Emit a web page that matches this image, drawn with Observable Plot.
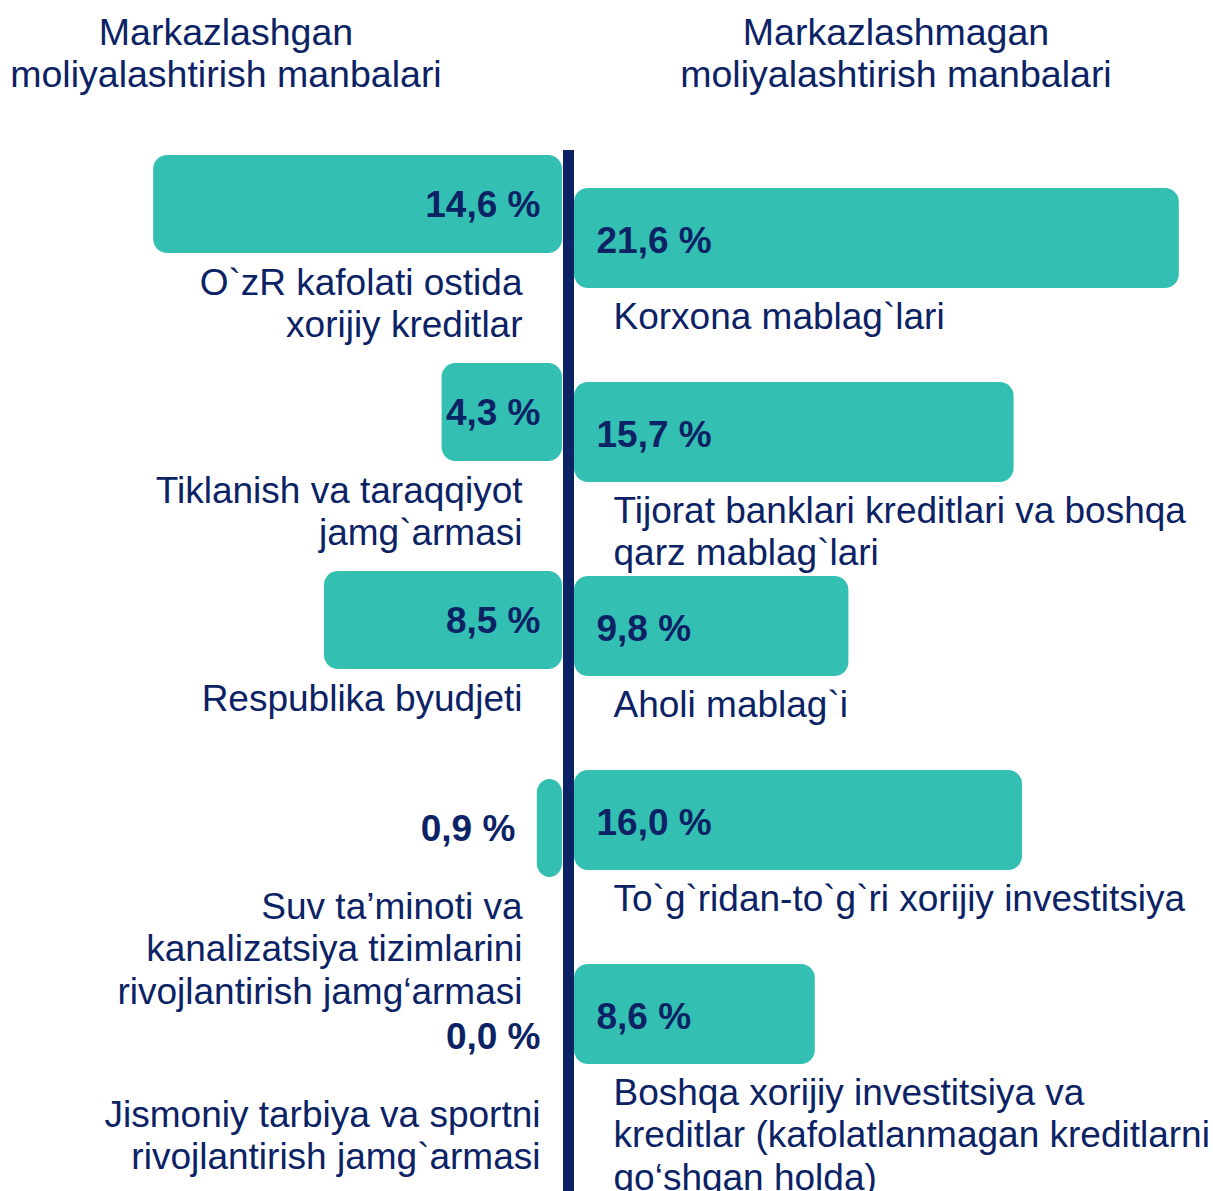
<!DOCTYPE html>
<html>
<head>
<meta charset="utf-8">
<script src="https://cdn.jsdelivr.net/npm/d3@7"></script>
<script src="https://cdn.jsdelivr.net/npm/@observablehq/plot@0.6"></script>
<style>
  body { margin: 0; background: #fff; }
  #root { position: relative; width: 1213px; height: 1191px; overflow: hidden; font-family: "Liberation Sans", Arial, sans-serif; color: #0B2265; }
  .hdr { position: absolute; top: 11px; font-size: 37.5px; line-height: 42px; text-align: center; white-space: nowrap; }
  .pl { position: absolute; top: 105px; }
</style>
</head>
<body>
<div id="root">
  <div class="hdr" id="hl" style="left:0;width:452px"></div>
  <div class="hdr" id="hr" style="left:580px;width:632px"></div>
  <div class="pl" id="pl" style="left:0"></div>
  <div class="pl" id="pr" style="left:558px"></div>
</div>
<script>
const leftHeader = ["Markazlashgan", "moliyalashtirish manbalari"];
const rightHeader = ["Markazlashmagan", "moliyalashtirish manbalari"];

const leftCategories = [
  "O`zR kafolati ostida\nxorijiy kreditlar",
  "Tiklanish va taraqqiyot\njamg`armasi",
  "Respublika byudjeti",
  "Suv ta’minoti va\nkanalizatsiya tizimlarini\nrivojlantirish jamg‘armasi",
  "Jismoniy tarbiya va sportni\nrivojlantirish jamg`armasi"
];
const leftValues = [14.6, 4.3, 8.5, 0.9, 0.0];

const rightCategories = [
  "Korxona mablag`lari",
  "Tijorat banklari kreditlari va boshqa\nqarz mablag`lari",
  "Aholi mablag`i",
  "To`g`ridan-to`g`ri xorijiy investitsiya",
  "Boshqa xorijiy investitsiya va\nkreditlar (kafolatlanmagan kreditlarni\nqo‘shgan holda)"
];
const rightValues = [21.6, 15.7, 9.8, 16.0, 8.6];

document.getElementById("hl").innerHTML = leftHeader.join("<br>");
document.getElementById("hr").innerHTML = rightHeader.join("<br>");

const TEAL = "#33C0B3";
const NAVY = "#0B2265";
const FONT = "'Liberation Sans', Arial, sans-serif";
const PX_PER_PCT = 28;
const H = 1086;
const fmt = v => d3.format(".1f")(v).replace(".", ",") + " %";

const left = leftValues.map((v, i) => ({row: i, value: v, cat: leftCategories[i]}));
const right = rightValues.map((v, i) => ({row: i, value: v, cat: rightCategories[i]}));
const rows = d3.range(5);

// Left side
const LW = 562;
const LSTEP = 208;
const LTOP = 50;
const leftPlot = Plot.plot({
  width: LW, height: H,
  margin: 0,
  style: {fontFamily: FONT, background: "transparent", overflow: "visible"},
  x: {domain: [0, LW / PX_PER_PCT], range: [LW, 0], axis: null},
  y: {type: "band", domain: rows, range: [LTOP, LTOP + 5 * LSTEP], padding: 0, axis: null},
  marks: [
    Plot.barX(left.filter(d => d.value > 0), {x: "value", y: "row", fill: TEAL, rx: 14, insetTop: 0, insetBottom: LSTEP - 98}),
    Plot.text(left, {x: d => d.value < 2 ? d.value : 0, y: "row", text: d => fmt(d.value), textAnchor: "end", dx: -22, dy: -54, fontSize: 37, fontWeight: "bold", fill: NAVY}),
    Plot.text(left.filter(d => d.value > 0), {x: 0, y: "row", text: "cat", textAnchor: "end", lineAnchor: "top", lineHeight: 1.15, dx: -40, dy: 5, fontSize: 37, fill: NAVY}),
    Plot.text(left.filter(d => d.value === 0), {x: 0, y: "row", text: "cat", textAnchor: "end", lineAnchor: "top", lineHeight: 1.15, dx: -22, dy: 5, fontSize: 37, fill: NAVY})
  ]
});
document.getElementById("pl").append(leftPlot);

// Right side
const RW = 655;
const RML = 16;
const RSTEP = 194;
const RTOP = 83;
const rightPlot = Plot.plot({
  width: RW, height: H,
  marginLeft: RML, marginRight: 0, marginTop: 45, marginBottom: 0,
  style: {fontFamily: FONT, background: "transparent", overflow: "visible"},
  x: {domain: [0, (RW - RML) / PX_PER_PCT], range: [RML, RW], axis: null},
  y: {type: "band", domain: rows, range: [RTOP, RTOP + 5 * RSTEP], padding: 0, axis: null},
  marks: [
    Plot.barX(right, {x: "value", y: "row", fill: TEAL, rx: 14, insetTop: 0, insetBottom: RSTEP - 100}),
    Plot.text(right, {x: 0, y: "row", text: d => fmt(d.value), textAnchor: "start", dx: 22, dy: -44, fontSize: 37, fontWeight: "bold", fill: NAVY}),
    Plot.text(right, {x: 0, y: "row", text: "cat", textAnchor: "start", lineAnchor: "top", lineHeight: 1.15, dx: 39, dy: 13, fontSize: 37, fill: NAVY}),
    Plot.ruleX([0], {stroke: NAVY, strokeWidth: 11, dx: -6})
  ]
});
document.getElementById("pr").append(rightPlot);
</script>
</body>
</html>
